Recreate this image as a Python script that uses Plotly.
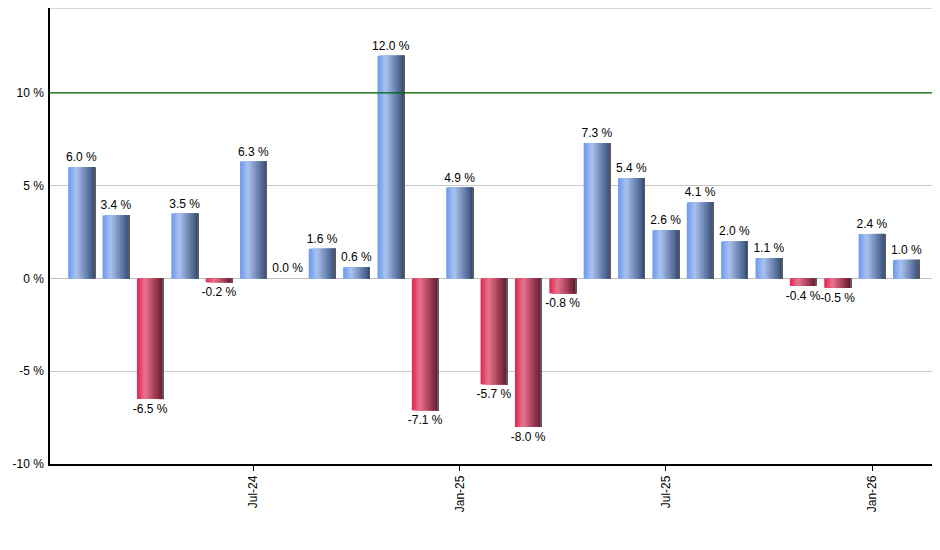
import plotly.graph_objects as go

# monthly returns, Feb-24 .. Feb-26
months = ["Feb-24", "Mar-24", "Apr-24", "May-24", "Jun-24", "Jul-24", "Aug-24", "Sep-24",
          "Oct-24", "Nov-24", "Dec-24", "Jan-25", "Feb-25", "Mar-25", "Apr-25", "May-25",
          "Jun-25", "Jul-25", "Aug-25", "Sep-25", "Oct-25", "Nov-25", "Dec-25", "Jan-26",
          "Feb-26"]
returns = [6.0, 3.4, -6.5, 3.5, -0.2, 6.3, 0.0, 1.6, 0.6, 12.0, -7.1, 4.9, -5.7, -8.0,
           -0.8, 7.3, 5.4, 2.6, 4.1, 2.0, 1.1, -0.4, -0.5, 2.4, 1.0]
tick_months = ["Jul-24", "Jan-25", "Jul-25", "Jan-26"]
y_ticks = [-10, -5, 0, 5, 10]
y_labels = ["-10 %", "-5 %", "0 %", "5 %", "10 %"]

# --- gradient stops (pos, rgb) ---
BLUE = [(0.0, (106, 152, 238)), (0.3, (170, 195, 240)), (0.6, (120, 142, 185)),
        (0.92, (62, 88, 132)), (1.0, (52, 70, 105))]
RED = [(0.0, (224, 34, 76)), (0.3, (232, 118, 144)), (0.6, (176, 72, 96)),
       (0.92, (110, 32, 54)), (1.0, (90, 26, 44))]


def interp(stops, t):
    for (p0, c0), (p1, c1) in zip(stops, stops[1:]):
        if p0 <= t <= p1:
            f = (t - p0) / (p1 - p0)
            c = [round(a + (b - a) * f) for a, b in zip(c0, c1)]
            return f"rgb({c[0]},{c[1]},{c[2]})"
    c = stops[-1][1]
    return f"rgb({c[0]},{c[1]},{c[2]})"


W = 0.78      # bar width in category units
N = 20        # slices for the horizontal gradient

fig = go.Figure()

# each slice runs from its start to the right edge, later slices on top -> no gaps
for i in range(N):
    t = (i + 0.5) / N
    start = -W / 2 + i * W / N
    cols = [interp(BLUE, t) if v >= 0 else interp(RED, t) for v in returns]
    fig.add_trace(go.Bar(
        x=months, y=returns,
        width=W - i * W / N, offset=start,
        marker=dict(color=cols, line=dict(width=0)),
        hoverinfo="skip", showlegend=False
    ))

# thin dark edge on the right
fig.add_trace(go.Bar(
    x=months, y=returns,
    width=0.025, offset=W / 2 - 0.025,
    marker=dict(color="#5a5a5a", line=dict(width=0)),
    hoverinfo="skip", showlegend=False
))

# labels
fig.add_trace(go.Bar(
    x=months, y=returns,
    width=W,
    marker=dict(color="rgba(0,0,0,0)", line=dict(width=0)),
    text=[f"{v:.1f} %" for v in returns],
    textposition="outside",
    constraintext="none",
    textfont=dict(family="Arial", size=12, color="black"),
    cliponaxis=False,
    hovertemplate="%{x}: %{y:.1f} %<extra></extra>",
    showlegend=False
))

fig.add_shape(type="line", xref="paper", yref="y", x0=0, x1=1, y0=10, y1=10,
              line=dict(color="#006400", width=1.2))
fig.add_shape(type="line", xref="paper", yref="paper", x0=0, x1=1, y0=1, y1=1,
              line=dict(color="#c8c8c8", width=1.5))

# page body has an 8px margin, so the margins are shifted to compensate
fig.update_layout(
    width=940, height=550,
    margin=dict(l=42, r=10, t=0, b=94, autoexpand=False),
    barmode="overlay",
    plot_bgcolor="white", paper_bgcolor="white",
    font=dict(family="Arial", size=12, color="black"),
    xaxis=dict(
        type="category", categoryorder="array", categoryarray=months,
        range=[-0.92, 24.92], automargin=False,
        tickvals=tick_months, ticktext=tick_months,
        tickangle=-90, ticks="outside", ticklen=5, tickcolor="black",
        showline=True, linecolor="black", linewidth=1.5,
        showgrid=False, zeroline=False,
    ),
    yaxis=dict(
        range=[-10, 14.58], tickvals=y_ticks, ticktext=y_labels, automargin=False,
        showline=True, linecolor="black", linewidth=1.5,
        showgrid=True, gridcolor="#c8c8c8", gridwidth=1,
        zeroline=True, zerolinecolor="#c0c0c0", zerolinewidth=1,
        ticks="", ticklabelstandoff=2,
    ),
)

fig.write_html("out.html")
